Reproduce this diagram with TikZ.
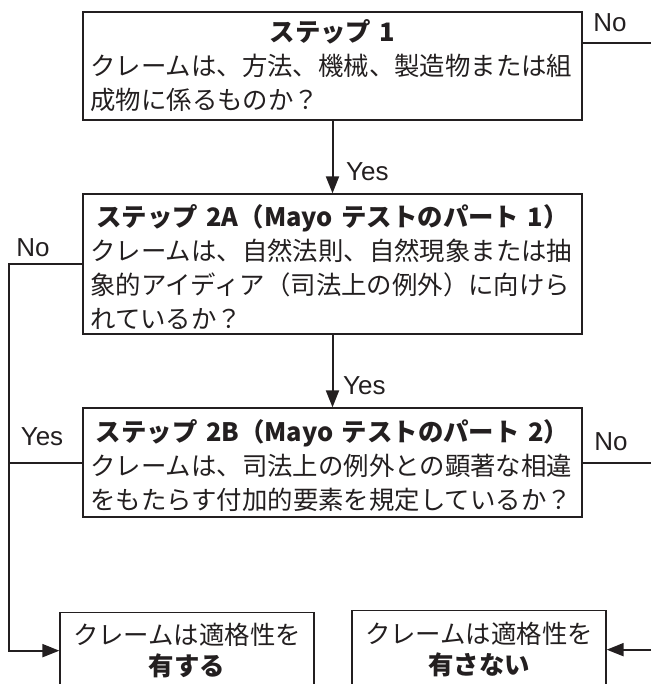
\documentclass[tikz,border=0pt]{standalone}
\usepackage{fontspec}
\setmainfont{Noto Sans CJK JP}
\newfontfamily\latfont{Liberation Sans}
\usetikzlibrary{arrows.meta}
\definecolor{ink}{HTML}{231F20}
\newcommand{\firstline}[1]{\makebox[\hsize]{\rule{0pt}{27.4pt}\bfseries #1}}
\begin{document}
\begin{tikzpicture}[x=1pt,y=-1pt,
  box/.style={font=\fontsize{25.4pt}{34pt}\selectfont, text=ink, draw=ink, line width=1.3pt, inner xsep=7.5pt, inner ysep=0pt, text width=484pt, align=left},
  endbox/.style={font=\fontsize{25.4pt}{31pt}\selectfont, text=ink, draw=ink, line width=1.3pt, inner sep=0pt, minimum width=254pt, align=center},
  lbl/.style={font=\latfont\fontsize{26pt}{30pt}\selectfont, text=ink, inner sep=0pt},
  conn/.style={draw=ink, line width=2pt},
  arr/.style={conn, -{Triangle[length=17pt,width=13pt]}}
]
\useasboundingbox (0,0) rectangle (651,684);
\clip (0,0) rectangle (651,684);

\node[box, minimum height=108pt] (s1) at (332.5,66) {\makebox[\hsize]{\bfseries ステップ 1}\\クレームは、方法、機械、製造物または組\\成物に係るものか？};
\node[box, minimum height=140pt] (s2) at (332.5,264) {\firstline{ステップ 2A（Mayo テストのパート 1）}\\クレームは、自然法則、自然現象または抽\\象的アイディア（司法上の例外）に向けら\\れているか？};
\node[box, minimum height=109pt] (s3) at (332.5,462.5) {\firstline{ステップ 2B（Mayo テストのパート 2）}\\クレームは、司法上の例外との顕著な相違\\をもたらす付加的要素を規定しているか？};

\node[endbox, minimum height=76pt, anchor=north] (r1) at (187,612) {クレームは適格性を\\{\bfseries 有する}};
\node[endbox, minimum height=78pt, anchor=north] (r2) at (479,610) {クレームは適格性を\\{\bfseries 有さない}};

\coordinate (e1) at (651,43);
\coordinate (lx) at (9,0);
\coordinate (e3) at (651,0);

\draw[conn] (s1.east |- e1) -- (e1);
\draw[arr] (s1.south) -- (s2.north);
\draw[arr] (s2.south) -- (s3.north);
\draw[arr] (s2.west) -| (lx |- r1.west) -- (r1.west);
\draw[conn] (s3.west) -- (s3.west -| lx);
\draw[conn] (s3.east) -- (s3.east -| e3);
\draw[arr] (r2.east -| e3) -- (r2.east);

\node[lbl, anchor=west] (y1) at (346,172) {Yes};
\node[lbl, anchor=west] (y2) at (343,386) {Yes};
\node[lbl] (n1) at (610,23) {No};
\node[lbl] (n2) at (33,248) {No};
\node[lbl] (y3) at (42,437) {Yes};
\node[lbl] (n3) at (611,442) {No};
\end{tikzpicture}
\end{document}
